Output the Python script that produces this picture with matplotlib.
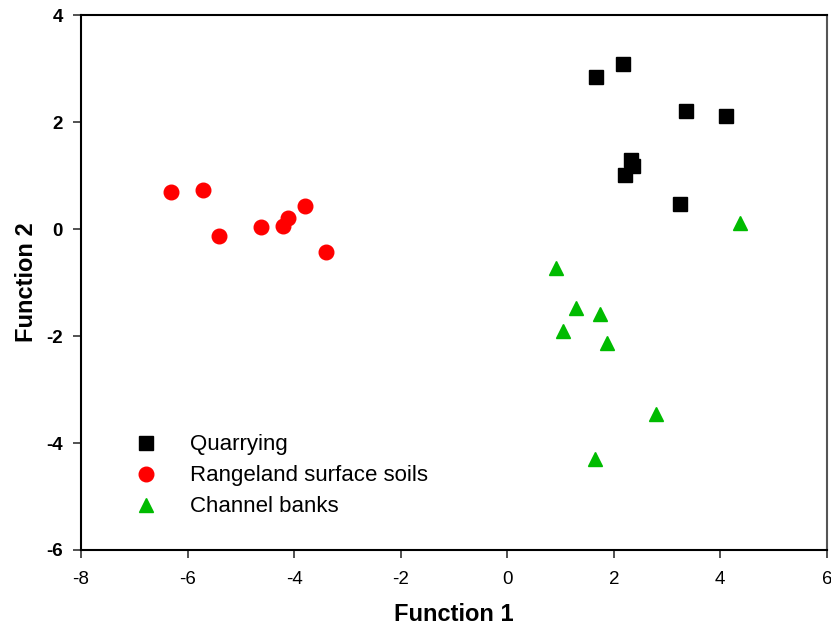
import numpy as np
import matplotlib.pyplot as plt

plt.rcParams['font.family'] = ['Liberation Sans', 'DejaVu Sans']

# ---------------------------------------------------------------------------
# Data (discriminant function scores)
# ---------------------------------------------------------------------------
quarry_f1 = [2.18, 1.67, 3.35, 4.10, 2.33, 2.37, 2.22, 3.25]
quarry_f2 = [3.08, 2.84, 2.21, 2.11, 1.29, 1.18, 1.01, 0.47]

range_f1 = [-6.32, -5.71, -5.41, -4.63, -4.12, -4.20, -3.80, -3.41]
range_f2 = [0.69, 0.73, -0.13, 0.04, 0.20, 0.06, 0.43, -0.42]

channel_f1 = [4.37, 0.91, 1.29, 1.74, 1.05, 1.87, 2.80, 1.64]
channel_f2 = [0.11, -0.73, -1.48, -1.58, -1.90, -2.12, -3.45, -4.30]

labels = ["Quarrying", "Rangeland surface soils", "Channel banks"]
xticks = [-8, -6, -4, -2, 0, 2, 4, 6]
yticks = [-6, -4, -2, 0, 2, 4]

fig = plt.figure(figsize=(8.31, 6.34), dpi=100)
ax = fig.add_axes([0.0975, 0.1325, 0.8975, 0.8435])

ax.plot(quarry_f1, quarry_f2, ls='none', marker='s', ms=9.5, color='black', label=labels[0])
ax.plot(range_f1, range_f2, ls='none', marker='o', ms=10.5, color='#ff0000', label=labels[1])
ax.plot(channel_f1, channel_f2, ls='none', marker='^', ms=10.5, color='#00bb00', label=labels[2])

ax.set_xlim(-8, 6)
ax.set_ylim(-6, 4)
ax.set_xticks(xticks)
ax.set_yticks(yticks)
ax.set_xticklabels([str(t) for t in xticks], fontsize=13.5)
ax.set_yticklabels([str(t) for t in yticks], fontsize=13.5, fontweight='bold')
ax.tick_params(direction='out', length=6, width=1.2, color='#333333')
ax.tick_params(axis='x', pad=9)
ax.tick_params(axis='y', pad=7)

for side in ['left', 'bottom', 'top']:
    ax.spines[side].set_linewidth(1.5)
ax.spines['right'].set_linewidth(1.5)
ax.spines['right'].set_color('#555555')

ax.set_xlabel("Function 1", fontsize=17, fontweight='bold', labelpad=11)
ax.set_ylabel("Function 2", fontsize=17, fontweight='bold', labelpad=6)

ax.legend(loc='upper left', bbox_to_anchor=(0.06, 0.233), frameon=False,
          fontsize=16, handletextpad=1.5, labelspacing=0.45, borderaxespad=0,
          handlelength=1.0)

fig.savefig("out.png", dpi=100)
